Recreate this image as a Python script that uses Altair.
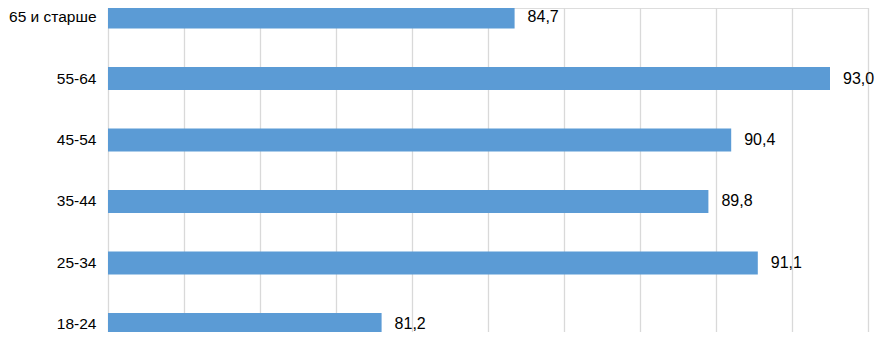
import altair as alt
import pandas as pd

categories = ["65 и старше", "55-64", "45-54", "35-44", "25-34", "18-24"]
values = [84.7, 93.0, 90.4, 89.8, 91.1, 81.2]
x_ticks = [74, 76, 78, 80, 82, 84, 86, 88, 90, 92, 94]

df = pd.DataFrame({"category": categories, "value": values})

FONT = "Liberation Sans"

y_enc = alt.Y(
    "category:N",
    sort=categories,
    scale=alt.Scale(range=[-2.5, 328.0], paddingInner=0.626, paddingOuter=0),
    axis=alt.Axis(
        title=None, ticks=False, domain=False, grid=False,
        labelPadding=12, labelFontSize=15.5, labelColor="#000000", labelFont=FONT,
    ),
)
x_enc = alt.X(
    "value:Q",
    scale=alt.Scale(domain=[x_ticks[0], x_ticks[-1]], nice=False, zero=False),
    axis=alt.Axis(
        values=x_ticks, labels=False, ticks=False, domain=False, title=None,
        grid=True, gridColor="#d9d9d9", gridWidth=1.3,
    ),
)

base = alt.Chart(df)
bars = base.mark_bar(color="#5b9bd5").encode(
    x=x_enc, x2=alt.datum(x_ticks[0]), y=y_enc
)
text = base.transform_calculate(
    label="replace(format(datum.value, '.1f'), '.', ',')"
).mark_text(
    align="left", baseline="middle", dx=13, fontSize=16, font=FONT, color="#000000"
).encode(x=alt.X("value:Q"), y=alt.Y("category:N", sort=categories), text="label:N")

chart = (
    alt.layer(bars, text)
    .properties(
        width=760,
        height=324,
        autosize=alt.AutoSizeParams(type="none"),
        padding={"left": 100, "top": 0, "right": 8, "bottom": 0},
    )
    .configure_view(stroke=None)
    .configure(background="white")
)

chart.save("out.html", embed_options={"renderer": "svg", "actions": False})
